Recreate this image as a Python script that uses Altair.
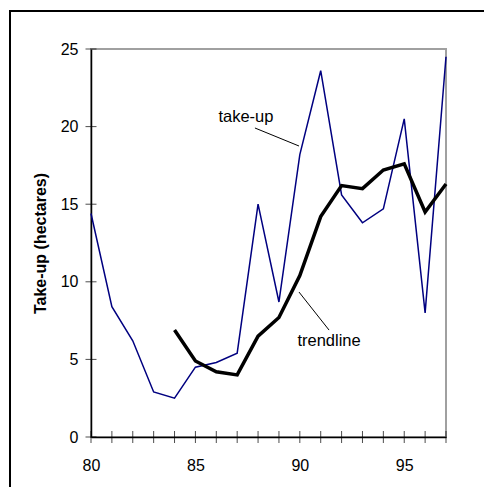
import altair as alt
import pandas as pd

years = list(range(80, 98))
takeup = [14.4, 8.4, 6.2, 2.9, 2.5, 4.5, 4.8, 5.4, 15.0, 8.7, 18.2, 23.6, 15.6, 13.8, 14.7, 20.5, 8.0, 24.5]
trend_years = list(range(84, 98))
trend = [6.9, 4.9, 4.2, 4.0, 6.5, 7.7, 10.4, 14.2, 16.2, 16.0, 17.2, 17.6, 14.5, 16.3]
x_labels = [80, 85, 90, 95]
y_ticks = [0, 5, 10, 15, 20, 25]

label_text = ["take-up", "trendline"]
label_x = [87.42, 91.40]
label_y = [20.6, 6.2]
leader_x = [87.85, 89.96]
leader_y = [19.91, 9.34]
leader_x2 = [89.96, 91.40]
leader_y2 = [18.75, 6.89]

FONT = "Liberation Sans"
W, H = 355, 388
PAD = {"left": 83, "top": 41, "right": 38, "bottom": 50}

df_take = pd.DataFrame({"year": years, "value": takeup})
df_trend = pd.DataFrame({"year": trend_years, "value": trend})
df_xt = pd.DataFrame({"year": years})
df_yt = pd.DataFrame({"v": y_ticks})
df_lab = pd.DataFrame({"t": label_text, "x": label_x, "y": label_y})
df_lead = pd.DataFrame({"x": leader_x, "y": leader_y, "x2": leader_x2, "y2": leader_y2})

xs = alt.Scale(domain=[80, 97], nice=False, zero=False)
ys = alt.Scale(domain=[0, 25], nice=False)

xaxis = alt.Axis(values=x_labels, format="d",
                 ticks=False, grid=False, domainColor="black", domainWidth=1.5,
                 labelFont=FONT, labelFontSize=16, labelColor="black", labelPadding=20,
                 labelOverlap=False, labelFlush=False, title=None)
yaxis = alt.Axis(values=y_ticks, ticks=False, grid=False, domainColor="black", domainWidth=1.5,
                 labelFont=FONT, labelFontSize=16, labelColor="black", labelPadding=13,
                 labelOverlap=False, labelFlush=False,
                 title="Take-up (hectares)", titleFont=FONT, titleFontSize=16,
                 titleFontWeight="bold", titleColor="black", titlePadding=12)

take_line = alt.Chart(df_take).mark_line(color="#000080", strokeWidth=1.5).encode(
    x=alt.X("year:Q", scale=xs, axis=xaxis),
    y=alt.Y("value:Q", scale=ys, axis=yaxis),
)
trend_line = alt.Chart(df_trend).mark_line(color="black", strokeWidth=3.5).encode(
    x=alt.X("year:Q", scale=xs),
    y=alt.Y("value:Q", scale=ys),
)
xticks = alt.Chart(df_xt).mark_tick(orient="vertical", size=12, thickness=1, color="black").encode(
    x=alt.X("year:Q", scale=xs),
    y=alt.datum(0, scale=ys),
)
yticks = alt.Chart(df_yt).mark_tick(orient="horizontal", size=11, thickness=1, color="black").encode(
    y=alt.Y("v:Q", scale=ys),
    x=alt.datum(80, scale=xs),
)
labels = alt.Chart(df_lab).mark_text(font=FONT, fontSize=16.5, color="black",
                                     baseline="middle", align="center").encode(
    x=alt.X("x:Q", scale=xs), y=alt.Y("y:Q", scale=ys), text="t:N")
leaders = alt.Chart(df_lead).mark_rule(color="black", strokeWidth=1).encode(
    x=alt.X("x:Q", scale=xs), y=alt.Y("y:Q", scale=ys), x2="x2:Q", y2="y2:Q")
frame = alt.Chart(pd.DataFrame({"a": [0]})).mark_rect(
    filled=False, stroke="black", strokeWidth=2, fill=None).encode(
    x=alt.value(-81), x2=alt.value(420), y=alt.value(-38), y2=alt.value(470))

chart = alt.layer(take_line, trend_line, xticks, yticks, leaders, labels, frame).properties(
    width=W, height=H, padding=PAD,
    autosize=alt.AutoSizeParams(type="none"),
).configure_view(stroke="#a0a0a0", strokeWidth=2)

chart.save("out.html", embed_options={"renderer": "svg", "actions": False})
